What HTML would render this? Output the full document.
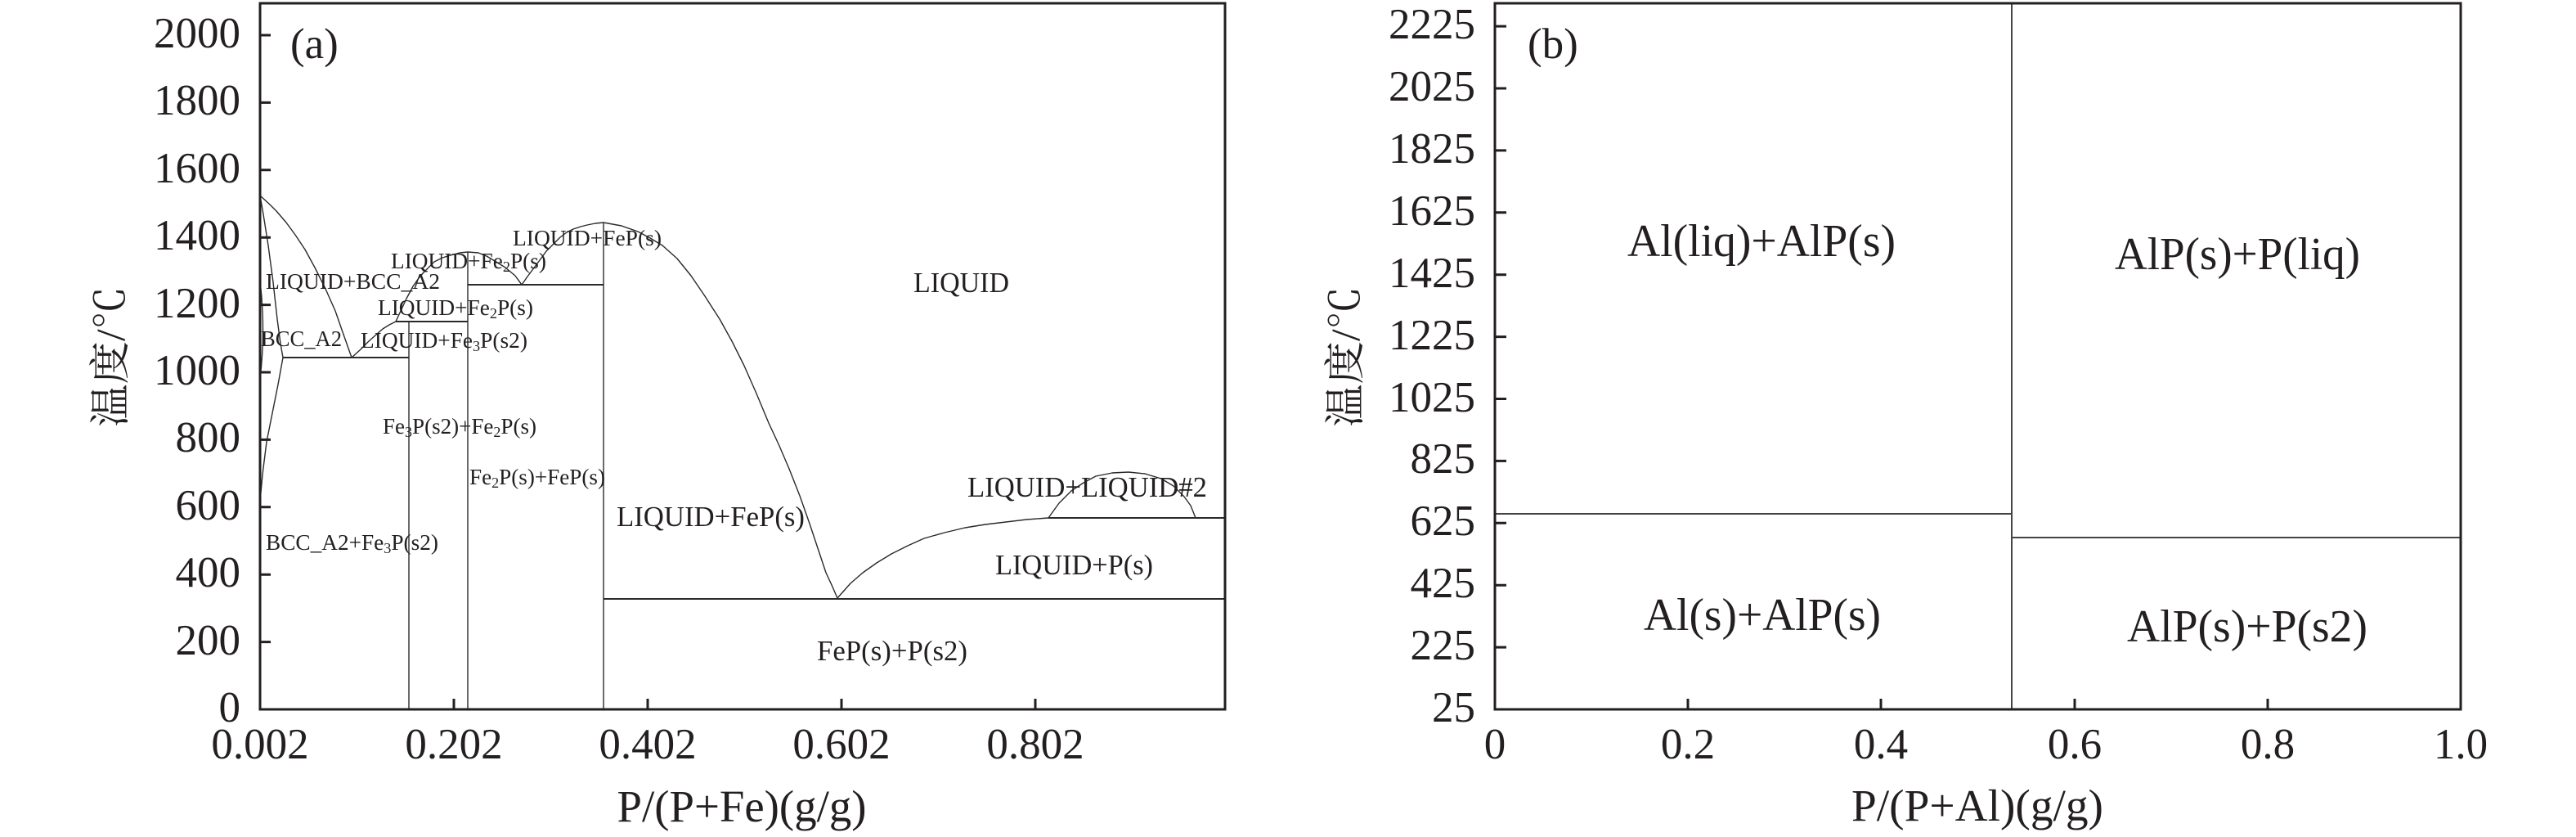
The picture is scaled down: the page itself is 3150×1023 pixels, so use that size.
<!DOCTYPE html>
<html><head><meta charset="utf-8"><style>
html,body{margin:0;padding:0;background:#fff;}
svg{display:block;}
text{font-family:"Liberation Serif","Noto Serif CJK SC",serif;fill:#231f20;}
.cjk{font-family:"Liberation Serif","Noto Serif CJK SC",serif;}
</style></head><body>
<svg width="3150" height="1023" viewBox="0 0 3150 1023" xmlns="http://www.w3.org/2000/svg">
<rect width="3150" height="1023" fill="#fff"/>

<!-- ================= (a) ================= -->
<g fill="none" stroke="#2a2a2a" stroke-width="1.4" stroke-linejoin="round">
  <polyline points="318,239 330,250 338,258 350,272 361,287 373,305 385,327 398,353 410,380 418,403 424,420 430,437"/>
  <polyline points="318,239 322,262 328,300 334,345 339,390 343,420 346,437"/>
  <polyline points="346,437 340,470 334,500 326,540 321,580 318,613"/>
  <path d="M318,343 Q325,403 318,463"/>
  <polyline points="430,437 440,428 451,417 460,409 468,402 476,397 484,393 490,380 497,365 505,350 512,340 518,333 525,326 531,320 541,315 551,312 562,309 572,308"/>
  <polyline points="572,308 585,309 595,313 605,319 618,327 630,337 638,348"/>
  <polyline points="638,348 645,338 651,330 660,318 668,307 677,298 685,290 693,284 701,280 710,277 718,275 728,273 738,272"/>
  <polyline points="738,272 760,276 780,283 795,291 810,300 828,316 845,337 862,362 880,390 895,417 910,447 925,481 940,517 953,545 965,573 978,606 990,640 1000,670 1010,700 1017,715 1024,731"/>
  <polyline points="1024,731 1040,713 1055,700 1072,688 1090,677 1110,667 1130,658 1155,651 1180,645 1205,641 1230,638 1255,635 1282,633"/>
  <polyline points="1282,633 1295,615 1310,600 1325,590 1340,582 1360,578 1380,577 1400,579 1420,585 1435,594 1448,607 1456,618 1462,633"/>
  <path d="M500,393 V867 M572,308 V867 M738,272 V867"/>
</g>
<g fill="none" stroke="#2a2a2a" stroke-width="2">
  <path d="M346,437 H500 M484,393 H572 M572,348 H738 M738,732 H1498 M1282,633 H1498"/>
</g>
<rect x="318" y="4" width="1180" height="863" fill="none" stroke="#231f20" stroke-width="3"/>
<g stroke="#231f20" stroke-width="3">
  <path d="M318,43 h13 M318,125.4 h13 M318,207.8 h13 M318,290.2 h13 M318,372.6 h13 M318,455 h13 M318,537.4 h13 M318,619.8 h13 M318,702.2 h13 M318,784.6 h13"/>
  <path d="M555,867 v-13 M792,867 v-13 M1029,867 v-13 M1266,867 v-13"/>
</g>
<g font-size="53" text-anchor="end">
  <text x="294" y="58">2000</text>
  <text x="294" y="140">1800</text>
  <text x="294" y="223">1600</text>
  <text x="294" y="305">1400</text>
  <text x="294" y="388">1200</text>
  <text x="294" y="470">1000</text>
  <text x="294" y="552">800</text>
  <text x="294" y="635">600</text>
  <text x="294" y="717">400</text>
  <text x="294" y="800">200</text>
  <text x="294" y="882">0</text>
</g>
<g font-size="53" text-anchor="middle">
  <text x="318" y="927">0.002</text>
  <text x="555" y="927">0.202</text>
  <text x="792" y="927">0.402</text>
  <text x="1029" y="927">0.602</text>
  <text x="1266" y="927">0.802</text>
</g>
<text x="907" y="1004" font-size="55" text-anchor="middle" textLength="305" lengthAdjust="spacingAndGlyphs">P/(P+Fe)(g/g)</text>
<text class="cjk" font-size="50" text-anchor="middle" textLength="172" lengthAdjust="spacingAndGlyphs" transform="translate(152,436) rotate(-90)">温度/℃</text>
<text x="355" y="71" font-size="53">(a)</text>

<g font-size="27">
  <text x="627" y="300" textLength="182" lengthAdjust="spacingAndGlyphs">LIQUID+FeP(s)</text>
  <text x="478" y="328" textLength="190" lengthAdjust="spacingAndGlyphs">LIQUID+Fe<tspan font-size="18" dy="4">2</tspan><tspan dy="-4">P(s)</tspan></text>
  <text x="325" y="353" textLength="213" lengthAdjust="spacingAndGlyphs">LIQUID+BCC_A2</text>
  <text x="462" y="385" textLength="190" lengthAdjust="spacingAndGlyphs">LIQUID+Fe<tspan font-size="18" dy="4">2</tspan><tspan dy="-4">P(s)</tspan></text>
  <text x="319" y="423" textLength="99" lengthAdjust="spacingAndGlyphs">BCC_A2</text>
  <text x="441" y="425" textLength="204" lengthAdjust="spacingAndGlyphs">LIQUID+Fe<tspan font-size="18" dy="4">3</tspan><tspan dy="-4">P(s2)</tspan></text>
  <text x="468" y="530" textLength="188" lengthAdjust="spacingAndGlyphs">Fe<tspan font-size="18" dy="4">3</tspan><tspan dy="-4">P(s2)+Fe</tspan><tspan font-size="18" dy="4">2</tspan><tspan dy="-4">P(s)</tspan></text>
  <text x="574" y="592" textLength="166" lengthAdjust="spacingAndGlyphs">Fe<tspan font-size="18" dy="4">2</tspan><tspan dy="-4">P(s)+FeP(s)</tspan></text>
  <text x="325" y="672" textLength="211" lengthAdjust="spacingAndGlyphs">BCC_A2+Fe<tspan font-size="18" dy="4">3</tspan><tspan dy="-4">P(s2)</tspan></text>
</g>
<g font-size="35">
  <text x="1117" y="357" textLength="117" lengthAdjust="spacingAndGlyphs">LIQUID</text>
  <text x="754" y="643" textLength="230" lengthAdjust="spacingAndGlyphs">LIQUID+FeP(s)</text>
  <text x="1183" y="607" textLength="293" lengthAdjust="spacingAndGlyphs">LIQUID+LIQUID#2</text>
  <text x="1217" y="702" textLength="193" lengthAdjust="spacingAndGlyphs">LIQUID+P(s)</text>
  <text x="999" y="807" textLength="184" lengthAdjust="spacingAndGlyphs">FeP(s)+P(s2)</text>
</g>

<!-- ================= (b) ================= -->
<g fill="none" stroke="#444" stroke-width="2">
  <path d="M2460,4 V867"/>
  <path d="M1828,628 H2460"/>
  <path d="M2460,657 H3009"/>
</g>
<rect x="1828" y="4" width="1181" height="863" fill="none" stroke="#231f20" stroke-width="3"/>
<g stroke="#231f20" stroke-width="3">
  <path d="M1828,32.1 h14 M1828,108 h14 M1828,183.9 h14 M1828,259.8 h14 M1828,335.7 h14 M1828,411.6 h14 M1828,487.5 h14 M1828,563.4 h14 M1828,639.3 h14 M1828,715.2 h14 M1828,791.1 h14"/>
  <path d="M2064,867 v-13 M2300,867 v-13 M2537,867 v-13 M2773,867 v-13"/>
</g>
<g font-size="53" text-anchor="end">
  <text x="1804" y="47">2225</text>
  <text x="1804" y="123">2025</text>
  <text x="1804" y="199">1825</text>
  <text x="1804" y="275">1625</text>
  <text x="1804" y="351">1425</text>
  <text x="1804" y="427">1225</text>
  <text x="1804" y="503">1025</text>
  <text x="1804" y="578">825</text>
  <text x="1804" y="654">625</text>
  <text x="1804" y="730">425</text>
  <text x="1804" y="806">225</text>
  <text x="1804" y="882">25</text>
</g>
<g font-size="53" text-anchor="middle">
  <text x="1828" y="927">0</text>
  <text x="2064" y="927">0.2</text>
  <text x="2300" y="927">0.4</text>
  <text x="2537" y="927">0.6</text>
  <text x="2773" y="927">0.8</text>
  <text x="3009" y="927">1.0</text>
</g>
<text x="2418" y="1003" font-size="55" text-anchor="middle" textLength="308" lengthAdjust="spacingAndGlyphs">P/(P+Al)(g/g)</text>
<text class="cjk" font-size="50" text-anchor="middle" textLength="172" lengthAdjust="spacingAndGlyphs" transform="translate(1662,436) rotate(-90)">温度/℃</text>
<text x="1868" y="71" font-size="53">(b)</text>

<g font-size="56">
  <text x="1990" y="313" textLength="328" lengthAdjust="spacingAndGlyphs">Al(liq)+AlP(s)</text>
  <text x="2586" y="329" textLength="300" lengthAdjust="spacingAndGlyphs">AlP(s)+P(liq)</text>
  <text x="2010" y="770" textLength="290" lengthAdjust="spacingAndGlyphs">Al(s)+AlP(s)</text>
  <text x="2601" y="784" textLength="294" lengthAdjust="spacingAndGlyphs">AlP(s)+P(s2)</text>
</g>
</svg>
</body></html>
